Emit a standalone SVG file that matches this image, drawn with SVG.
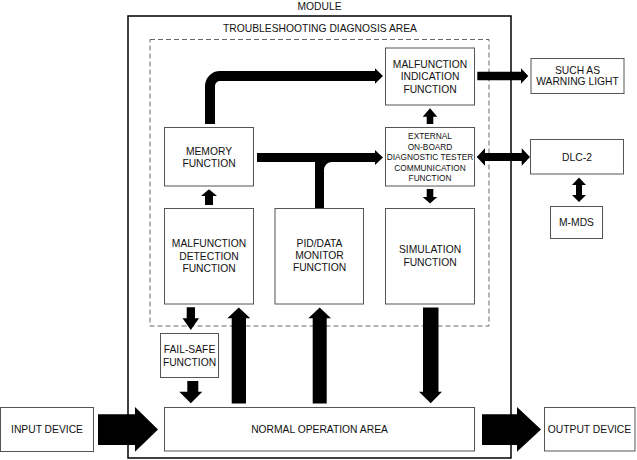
<svg xmlns="http://www.w3.org/2000/svg" width="637" height="460" viewBox="0 0 637 460">
<style>
text{font-family:"Liberation Sans",Arial,sans-serif;font-size:10.3px;fill:#111;text-anchor:middle}
.sm{font-size:8.3px}
.box{fill:#fff;stroke:#555;stroke-width:1}
.arr{fill:#000;stroke:none}
</style>
<rect width="637" height="460" fill="#fff"/>
<g id="module">
<rect x="128" y="16" width="383" height="442" fill="none" stroke="#000" stroke-width="1.5"/>
<text x="319.5" y="10">MODULE</text>
</g>
<g id="diag-area">
<rect x="150" y="39.5" width="339" height="286.5" fill="none" stroke="#666" stroke-width="1" stroke-dasharray="5,3"/>
<text x="320" y="32">TROUBLESHOOTING DIAGNOSIS AREA</text>
</g>
<g id="mil">
<rect class="box" x="385.5" y="48" width="89" height="57"/>
<text x="430" y="67.5">MALFUNCTION</text>
<text x="430" y="80">INDICATION</text>
<text x="430" y="92.5">FUNCTION</text>
</g>
<g id="memory">
<rect class="box" x="164.5" y="127.5" width="89" height="58.5"/>
<text x="209" y="154.5">MEMORY</text>
<text x="209" y="166.7">FUNCTION</text>
</g>
<g id="external">
<rect class="box" x="385.5" y="127.5" width="89" height="58.5"/>
<text class="sm" x="430" y="139">EXTERNAL</text>
<text class="sm" x="430" y="149.5">ON-BOARD</text>
<text class="sm" x="430" y="160">DIAGNOSTIC TESTER</text>
<text class="sm" x="430" y="170.5">COMMUNICATION</text>
<text class="sm" x="430" y="181">FUNCTION</text>
</g>
<g id="detection">
<rect class="box" x="164.5" y="208.5" width="89" height="95.5"/>
<text x="209" y="247">MALFUNCTION</text>
<text x="209" y="259.5">DETECTION</text>
<text x="209" y="272">FUNCTION</text>
</g>
<g id="pid">
<rect class="box" x="275" y="208.5" width="88.5" height="95.5"/>
<text x="319.5" y="247">PID/DATA</text>
<text x="319.5" y="259">MONITOR</text>
<text x="319.5" y="271">FUNCTION</text>
</g>
<g id="simulation">
<rect class="box" x="385.5" y="208.5" width="89" height="95.5"/>
<text x="430" y="253">SIMULATION</text>
<text x="430" y="265.5">FUNCTION</text>
</g>
<g id="failsafe">
<rect class="box" x="160.5" y="333.5" width="58" height="44"/>
<text x="189.5" y="352.5">FAIL-SAFE</text>
<text x="189.5" y="365.5">FUNCTION</text>
</g>
<g id="normal">
<rect class="box" x="164.5" y="407.5" width="310" height="43.5"/>
<text x="319.5" y="433">NORMAL OPERATION AREA</text>
</g>
<g id="input">
<rect class="box" x="0.5" y="407.5" width="93" height="44"/>
<text x="47" y="433">INPUT DEVICE</text>
</g>
<g id="output">
<rect class="box" x="544.5" y="407.5" width="90.5" height="43.5"/>
<text x="589.5" y="433">OUTPUT DEVICE</text>
</g>
<g id="warning">
<rect class="box" x="531" y="58.5" width="93" height="35"/>
<text x="577.5" y="73.5">SUCH AS</text>
<text x="577.5" y="85">WARNING LIGHT</text>
</g>
<g id="dlc2">
<rect class="box" x="530.5" y="139.5" width="93" height="34.5"/>
<text x="577" y="160.5">DLC-2</text>
</g>
<g id="mmds">
<rect class="box" x="550.5" y="206.5" width="52" height="32"/>
<text x="576.5" y="226">M-MDS</text>
</g>
<g id="connectors">
<path d="M210,124 V86 A10,10 0 0 1 220,76 H376" fill="none" stroke="#000" stroke-width="10"/>
<polygon class="arr" points="375,68.3 383,76 375,83.7"/>
<rect class="arr" x="257" y="153" width="119" height="9"/>
<polygon class="arr" points="375,150 383,157.5 375,165"/>
<rect class="arr" x="315" y="157" width="9" height="51"/>
<path class="arr" d="M324,162 L324,170 A8,8 0 0 1 332,162 Z"/>
<polygon class="arr" points="205,205 205,196 201,196 209,189.3 217,196 213,196 213,205"/>
<polygon class="arr" points="426.7,124 426.7,116.7 422.7,116.7 430,108.3 437.3,116.7 433.3,116.7 433.3,124"/>
<polygon class="arr" points="426.7,189 426.7,197 422.7,197 430,203.5 437.3,197 433.3,197 433.3,189"/>
<polygon class="arr" points="477.3,71.7 521,71.7 521,68.3 528.3,76 521,83.7 521,80.3 477.3,80.3"/>
<polygon class="arr" points="476.7,157 485,148.3 485,153 521.7,153 521.7,148.3 530,157 521.7,165.7 521.7,161 485,161 485,165.7"/>
<polygon class="arr" points="579,177.5 586,185 582,185 582,195 586,195 579,202 572,195 576,195 576,185 572,185"/>
<polygon class="arr" points="186.7,307.3 195,307.3 195,318.3 199,318.3 190.8,330 182.5,318.3 186.7,318.3"/>
<polygon class="arr" points="187.3,381 198.3,381 198.3,391.7 202.3,391.7 190.8,403.3 179.3,391.7 187.3,391.7"/>
<polygon class="arr" points="231.7,403.5 231.7,318.3 227.3,318.3 238.8,307.5 250.3,318.3 246,318.3 246,403.5"/>
<polygon class="arr" points="312.7,403.5 312.7,318.3 308.3,318.3 319.7,307.5 331,318.3 326.7,318.3 326.7,403.5"/>
<polygon class="arr" points="423,307.5 438.5,307.5 438.5,391.7 442,391.7 430.7,403.3 419,391.7 423,391.7"/>
<polygon class="arr" points="98,414.3 135,414.3 135,407 158,429.5 135,451.7 135,445 98,445"/>
<polygon class="arr" points="482,414.3 517,414.3 517,407 541,429.5 517,451.7 517,445 482,445"/>
</g>
</svg>
